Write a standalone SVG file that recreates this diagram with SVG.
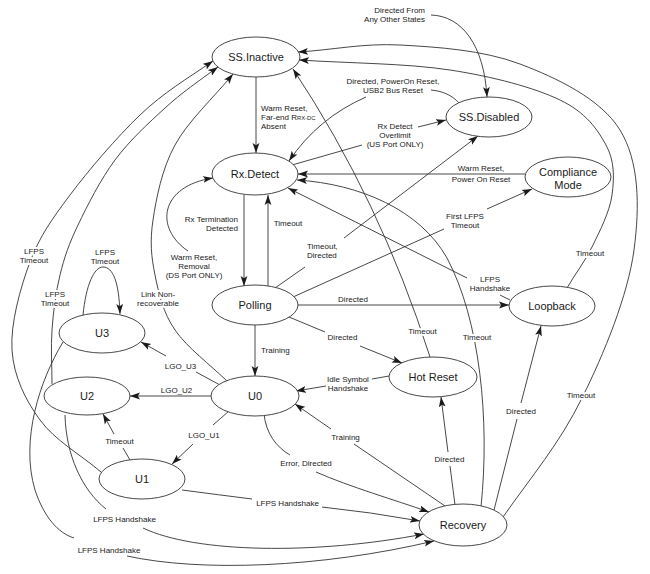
<svg xmlns="http://www.w3.org/2000/svg" width="650" height="574" viewBox="0 0 650 574">
<defs>
<marker id="ah" viewBox="0 0 10 8" refX="10" refY="4" markerWidth="10" markerHeight="8" orient="auto" markerUnits="userSpaceOnUse"><path d="M0,0.6 L10,4 L0,7.4 L2.2,4 z" fill="#1a1a1a"/></marker>
<style>
.e{fill:none;stroke:#333;stroke-width:0.9}
.a{marker-end:url(#ah)}
.n ellipse{fill:#fff;stroke:#333;stroke-width:0.9}
.n text{font-family:"Liberation Sans",Arial,sans-serif;font-size:11px;fill:#1a1a1a;text-anchor:middle}
.l{font-family:"Liberation Sans",Arial,sans-serif;font-size:8px;fill:#1a1a1a;text-anchor:middle}
.h{stroke:#fff;stroke-width:4;stroke-linejoin:round;paint-order:stroke}
.s{text-anchor:start}
.r{text-anchor:end}
</style>
</defs>
<rect width="650" height="574" fill="#fff"/>
<g id="connectors">
<path class="e a" d="M431,15 C462,16 484,45 487,97"/>
<path class="e a" d="M256,77 L256,153"/>
<path class="e" d="M459,103 C452,95 442,91 431,90"/>
<path class="e a" d="M366,97 Q318,118 289,161"/>
<path class="e a" d="M292,165 L362,145 M418,127 L446,120"/>
<path class="e a" d="M525,174 L298,174"/>
<path class="e a" d="M510,300 L500,295 M467,278 L288,188"/>
<path class="e a" d="M481,507 C490,420 480,320 447,258 C420,210 360,184 297,180"/>
<path class="e a" d="M268,286 L268,195"/>
<path class="e a" d="M244,195 L244,286"/>
<path class="e a" d="M188,251 C154,228 160,186 213,178"/>
<path class="e a" d="M275,288 L305,267 M344,238 L478,136"/>
<path class="e a" d="M293,297 L444,229 M487,209 L532,189"/>
<path class="e a" d="M298,305 L509,305"/>
<path class="e a" d="M289,317 L325,332 M360,346 L402,363"/>
<path class="e a" d="M255,325 L255,376"/>
<path class="e a" d="M389,376 L372,379 M326,386 L296,391"/>
<path class="e a" d="M430,357 Q380,200 293,69"/>
<path class="e a" d="M503,517 C531,477 560,443 582,398 C604,354 628,295 634,250 C640,205 639,161 620,130 C601,99 557,78 520,64 C483,50 437,47 400,45 C363,43 333,50 298,52"/>
<path class="e a" d="M567,288 C575,274 584.5,262.3 592,247 C599.5,231.7 609.7,212 612,195 C614.3,178 614.7,160.8 606,145 C597.3,129.2 586,112.5 560,100 C534,87.5 493.5,76.7 450,70 C406.5,63.3 349.3,63.3 299,60"/>
<path class="e a" d="M494,510 L517,419 M521,403 L541,326"/>
<path class="e a" d="M455,505 L450,466 M448,452 L441,397"/>
<path class="e a" d="M445,506 L354,444 M331,429 L295,404"/>
<path class="e a" d="M264,414 C266,433 276,447 290,455 M316,472 C350,487 395,500 429,512"/>
<path class="e a" d="M182,490 Q220,495 252,499 M322,507 Q370,512 420,521"/>
<path class="e a" d="M65,415 C66,455 82,490 106,509 M143,528 C195,553 315,555 424,534"/>
<path class="e a" d="M63,342 C40,380 20,440 35,490 C44,517 58,533 74,538 M127,556 C200,572 320,568 434,541"/>
<path class="e a" d="M101,472 C80.7,454.7 54.8,440.3 40,420 C25.2,399.7 13.7,376.3 12,350 C10.3,323.7 20.3,287.8 30,262 C39.7,236.2 51.7,219.5 70,195 C88.3,170.5 116.7,137.3 140,115 C163.3,92.7 186.7,79 213,61"/>
<path class="e a" d="M52,384 C52,366 50.7,348.2 52,330 C53.3,311.8 55.7,292.5 60,275 C64.3,257.5 68.8,244.2 78,225 C87.2,205.8 100.5,179.5 115,160 C129.5,140.5 148.3,123.3 165,108 C181.7,92.7 198.3,81.3 218,67"/>
<path class="e a" d="M228,382 C210.3,364.7 187.2,347.8 175,330 C162.8,312.2 158.7,293.3 155,275 C151.3,256.7 149.7,241.7 153,220 C156.3,198.3 161.7,169.3 175,145 C188.3,120.7 213.7,97.7 233,74"/>
<path class="e a" d="M83,315 C86,285 94,267 103,267 C113,267 119,282 120,314"/>
<path class="e a" d="M220,385 L196,372 M166,356 L141,342"/>
<path class="e a" d="M211,396 L130,396"/>
<path class="e a" d="M229,411 L213,425 M193,444 L172,464"/>
<path class="e a" d="M130,460 L123,448 M114,434 L103,414"/>
</g>
<g id="nodes">
<g id="ss-inactive" class="n"><ellipse cx="256" cy="57" rx="44" ry="20"/><text x="256" y="61">SS.Inactive</text></g>
<g id="ss-disabled" class="n"><ellipse cx="489" cy="117" rx="43" ry="20"/><text x="489" y="121">SS.Disabled</text></g>
<g id="rx-detect" class="n"><ellipse cx="255" cy="174" rx="43" ry="21"/><text x="255" y="178">Rx.Detect</text></g>
<g id="compliance-mode" class="n"><ellipse cx="568" cy="177" rx="43" ry="20"/><text x="568" y="176">Compliance</text><text x="568" y="188.5">Mode</text></g>
<g id="polling" class="n"><ellipse cx="255" cy="305" rx="43" ry="20"/><text x="255" y="309">Polling</text></g>
<g id="loopback" class="n"><ellipse cx="552" cy="306" rx="43" ry="20"/><text x="552" y="310">Loopback</text></g>
<g id="hot-reset" class="n"><ellipse cx="433" cy="377" rx="44" ry="20"/><text x="433" y="381">Hot Reset</text></g>
<g id="u0" class="n"><ellipse cx="255" cy="396" rx="44" ry="20"/><text x="255" y="400">U0</text></g>
<g id="u3" class="n"><ellipse cx="102" cy="333" rx="43" ry="20"/><text x="102" y="337">U3</text></g>
<g id="u2" class="n"><ellipse cx="87" cy="396" rx="43" ry="19"/><text x="87" y="400">U2</text></g>
<g id="u1" class="n"><ellipse cx="142" cy="479" rx="43" ry="20"/><text x="142" y="483">U1</text></g>
<g id="recovery" class="n"><ellipse cx="463" cy="525" rx="44" ry="21"/><text x="463" y="529">Recovery</text></g>
</g>
<g id="edge-labels">
<text class="l r"><tspan x="425" y="12.9">Directed From</tspan><tspan x="425" y="21.9">Any Other States</tspan></text>
<text class="l s"><tspan x="261" y="110.7">Warm Reset,</tspan><tspan x="261" y="119.7">Far-end R<tspan font-size="5.8">RX-DC</tspan></tspan><tspan x="261" y="128.7">Absent</tspan></text>
<text class="l"><tspan x="393" y="84.4">Directed, PowerOn Reset,</tspan><tspan x="393" y="93.4">USB2 Bus Reset</tspan></text>
<text class="l"><tspan x="395" y="129">Rx Detect</tspan><tspan x="395" y="138">Overlimit</tspan><tspan x="395" y="147">(US Port ONLY)</tspan></text>
<text class="l"><tspan x="481" y="171.3">Warm Reset,</tspan><tspan x="481" y="182">Power On Reset</tspan></text>
<text class="l r"><tspan x="238" y="221.7">Rx Termination</tspan><tspan x="238" y="230.7">Detected</tspan></text>
<text class="l" x="288" y="225.7">Timeout</text>
<text class="l"><tspan x="194" y="260">Warm Reset,</tspan><tspan x="194" y="269">Removal</tspan><tspan x="194" y="278">(DS Port ONLY)</tspan></text>
<text class="l s"><tspan x="307" y="249.4">Timeout,</tspan><tspan x="307" y="258.4">Directed</tspan></text>
<text class="l"><tspan x="465" y="219">First LFPS</tspan><tspan x="465" y="228">Timeout</tspan></text>
<text class="l"><tspan x="490" y="281.8">LFPS</tspan><tspan x="490" y="290.8">Handshake</tspan></text>
<text class="l h" x="590" y="255.7">Timeout</text>
<text class="l" x="353" y="302.3">Directed</text>
<text class="l h"><tspan x="158" y="296.9">Link Non-</tspan><tspan x="158" y="305.9">recoverable</tspan></text>
<text class="l"><tspan x="105" y="255.4">LFPS</tspan><tspan x="105" y="264.4">Timeout</tspan></text>
<text class="l h"><tspan x="34" y="254.4">LFPS</tspan><tspan x="34" y="263.4">Timeout</tspan></text>
<text class="l h"><tspan x="55" y="297">LFPS</tspan><tspan x="55" y="306">Timeout</tspan></text>
<text class="l s" x="261" y="353">Training</text>
<text class="l" x="342.5" y="339.7">Directed</text>
<text class="l"><tspan x="348" y="381.7">Idle Symbol</tspan><tspan x="348" y="390.7">Handshake</tspan></text>
<text class="l h" x="422.5" y="334">Timeout</text>
<text class="l h" x="477" y="339.7">Timeout</text>
<text class="l h" x="581" y="398">Timeout</text>
<text class="l" x="521" y="413.7">Directed</text>
<text class="l" x="449.5" y="462.3">Directed</text>
<text class="l" x="345.5" y="440.3">Training</text>
<text class="l" x="306" y="466.3">Error, Directed</text>
<text class="l" x="287.5" y="506.3">LFPS Handshake</text>
<text class="l" x="180.5" y="368.7">LGO_U3</text>
<text class="l" x="176.5" y="393">LGO_U2</text>
<text class="l" x="204" y="438">LGO_U1</text>
<text class="l" x="119.5" y="444">Timeout</text>
<text class="l" x="124.5" y="522">LFPS Handshake</text>
<text class="l" x="109" y="553">LFPS Handshake</text>
</g>
</svg>
